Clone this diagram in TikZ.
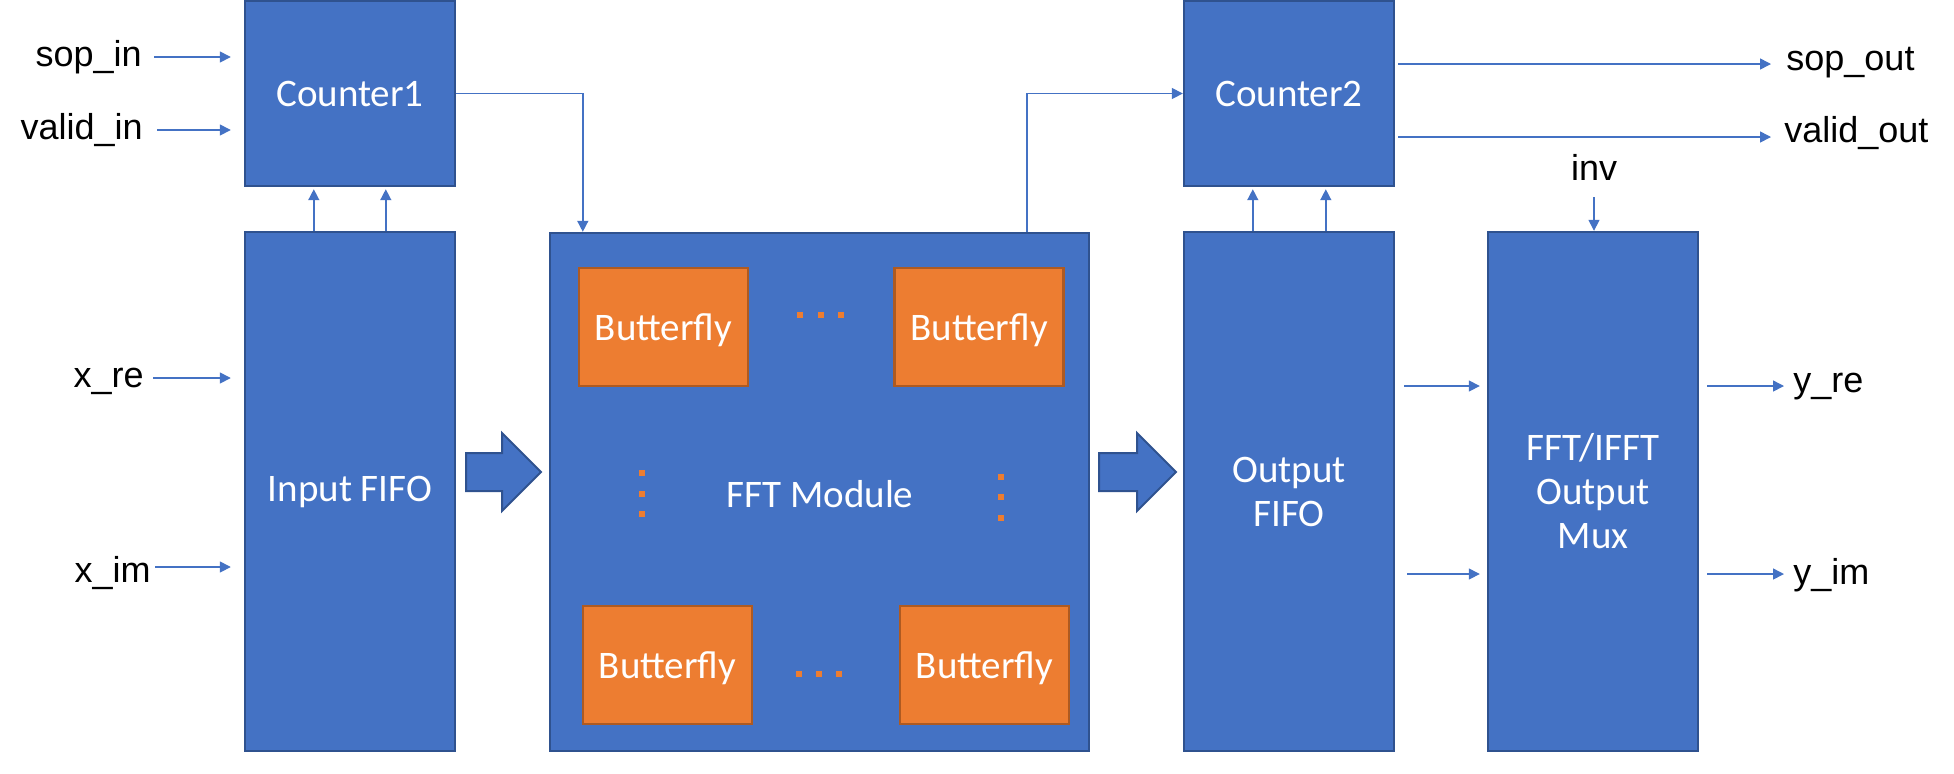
\documentclass[tikz,border=0pt]{standalone}
\usepackage{fontspec}
\setmainfont{Liberation Sans}
\newfontfamily\wfont{Carlito}
\usetikzlibrary{arrows.meta}
\definecolor{boxblue}{HTML}{4472C4}
\definecolor{boxedge}{HTML}{2F528F}
\definecolor{bforange}{HTML}{ED7D31}
\definecolor{bfedge}{HTML}{AE5A21}
\begin{document}
\begin{tikzpicture}[x=0.5pt,y=-0.5pt,
 blk/.style={draw=boxedge, fill=boxblue, line width=1.2pt, inner sep=0pt, text=white,
   font=\wfont\fontsize{19.5}{22}\selectfont, align=center},
 bfly/.style={draw=bfedge, fill=bforange, line width=1.2pt, minimum width=84.5pt,
   minimum height=59pt, inner sep=0pt, text=white, text depth=0pt,
   font=\wfont\fontsize{19.5}{22}\selectfont},
 wlbl/.style={inner sep=0pt, text=white, font=\wfont\fontsize{19.5}{22}\selectfont},
 lbl/.style={inner sep=0pt, font=\fontsize{18}{20}\selectfont},
 sig/.style={draw=boxblue, line width=0.75pt, -{Triangle[length=5.5pt,width=5.5pt]}},
 fat/.style={draw=boxedge, fill=boxblue, line width=1pt, line join=miter},
 odot/.style={fill=bforange, minimum size=3pt, inner sep=0pt}
]
\useasboundingbox (0,0) rectangle (1954,773);

% main blocks
\node[blk, minimum width=105pt, minimum height=92.5pt] (c1) at (350,93.5) {Counter1};
\node[blk, minimum width=105pt, minimum height=259.5pt] (ifo) at (350,491.5) {Input FIFO};
\node[blk, minimum width=269.5pt, minimum height=259pt] (fft) at (819.5,492) {};
\node[wlbl] (fftlbl) at (820,494) {FFT Module};
\node[blk, minimum width=105pt, minimum height=92.5pt] (c2) at (1289,93.5) {Counter2};
\node[blk, minimum width=105pt, minimum height=259.5pt] (ofo) at (1289,491.5) {Output\\FIFO};
\node[blk, minimum width=105pt, minimum height=259.5pt] (mux) at (1593,491.5) {FFT/IFFT\\Output\\Mux};

% butterflies
\node[bfly] (b1) at (663.5,327) {Butterfly};
\node[bfly] (b2) at (979,327) {Butterfly};
\node[bfly] (b3) at (667.5,665) {Butterfly};
\node[bfly] (b4) at (984.5,665) {Butterfly};

% dots
\foreach \n/\px/\py in {t1/800/315, t2/821/315, t3/841/315,
                        u1/799/674, u2/819/674, u3/839/674,
                        l1/642/473, l2/642/494, l3/642/514,
                        r1/1001/477, r2/1001/497, r3/1001/518}
  \node[odot] (d\n) at (\px,\py) {};

% fat arrows
\draw[fat] (466,453) -- (502,453) -- (502,433) -- (541,472) -- (502,511) -- (502,491) -- (466,491) -- cycle;
\draw[fat] (1099,453) -- (1137,453) -- (1137,433) -- (1176,472) -- (1137,511) -- (1137,491) -- (1099,491) -- cycle;

% labels
\node[lbl, anchor=base east] (sopin) at (142,66) {sop\_in};
\node[lbl, anchor=base east] (validin) at (143,139) {valid\_in};
\node[lbl, anchor=base east] (xre) at (144,387) {x\_re};
\node[lbl, anchor=base east] (xim) at (151,582) {x\_im};
\node[lbl, anchor=base west] (sopout) at (1786,70) {sop\_out};
\node[lbl, anchor=base west] (validout) at (1784,142) {valid\_out};
\node[lbl, anchor=base west] (yre) at (1793,392) {y\_re};
\node[lbl, anchor=base west] (yim) at (1793,584) {y\_im};
\node[lbl, anchor=base] (inv) at (1594,180) {inv};

% connector anchor points beside the labels
\coordinate (psopin) at ([yshift=4.5pt]sopin.base east);
\coordinate (pvalidin) at ([yshift=4.5pt]validin.base east);
\coordinate (pxre) at ([yshift=4.5pt]xre.base east);
\coordinate (pxim) at ([yshift=7.5pt]xim.base east);
\coordinate (psopout) at ([yshift=3pt]sopout.base west);
\coordinate (pvalidout) at ([yshift=2.5pt]validout.base west);
\coordinate (pyre) at ([yshift=3pt]yre.base west);
\coordinate (pyim) at ([yshift=5pt]yim.base west);

% input signals
\draw[sig, shorten <=6pt, shorten >=6.5pt] (psopin) -- (psopin -| c1.west);
\draw[sig, shorten <=7pt, shorten >=6.5pt] (pvalidin) -- (pvalidin -| c1.west);
\draw[sig, shorten <=4.5pt, shorten >=6.5pt] (pxre) -- (pxre -| ifo.west);
\draw[sig, shorten <=2pt, shorten >=6.5pt] (pxim) -- (pxim -| ifo.west);

% FIFO -> counters
\draw[sig, shorten >=1pt] ([xshift=35pt]ifo.north west) -- ([xshift=35pt]c1.south west);
\draw[sig, shorten >=1pt] ([xshift=71pt]ifo.north west) -- ([xshift=71pt]c1.south west);
\draw[sig, shorten >=1pt] ([xshift=35pt]ofo.north west) -- ([xshift=35pt]c2.south west);
\draw[sig, shorten >=1pt] ([xshift=71.5pt]ofo.north west) -- ([xshift=71.5pt]c2.south west);

% counter links
\draw[sig] (c1.east) -| ([xshift=17pt]fft.north west);
\draw[sig] ([xshift=-31.5pt]fft.north east) |- (c2.west);

% outputs of counter2
\draw[sig, shorten <=1.5pt, shorten >=7.5pt] (psopout -| c2.east) -- (psopout);
\draw[sig, shorten <=1.5pt, shorten >=6.5pt] (pvalidout -| c2.east) -- (pvalidout);

% inv
\draw[sig, shorten <=8.5pt] (inv.south) -- (inv.south |- mux.north);

% output FIFO -> mux
\draw[sig, shorten <=4.5pt, shorten >=3.5pt] (pyre -| ofo.east) -- (pyre -| mux.west);
\draw[sig, shorten <=6pt, shorten >=3.5pt] (pyim -| ofo.east) -- (pyim -| mux.west);

% mux -> outputs
\draw[sig, shorten <=4pt, shorten >=4.5pt] (pyre -| mux.east) -- (pyre);
\draw[sig, shorten <=4pt, shorten >=4.5pt] (pyim -| mux.east) -- (pyim);
\end{tikzpicture}
\end{document}
